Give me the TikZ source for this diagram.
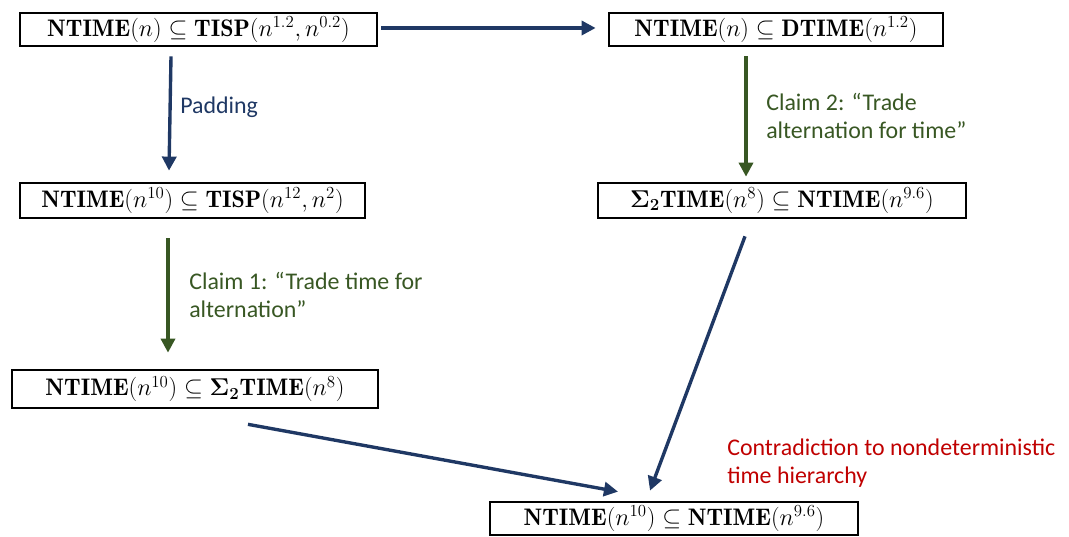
\documentclass[tikz,border=0pt]{standalone}
\usepackage{amsmath,amssymb,bm}
\usepackage{fontspec}
\newfontfamily\labelfont{Carlito}
\usetikzlibrary{positioning, arrows.meta, calc}

\definecolor{navy}{RGB}{31,56,100}
\definecolor{claimgreen}{RGB}{56,87,35}
\definecolor{contrared}{RGB}{192,0,0}

\tikzset{
  claim/.style={draw, rectangle, line width=1.9pt, inner sep=0pt,
    minimum height=0.825cm, font=\fontsize{17}{20}\selectfont},
  navyarrow/.style={navy, line width=2.4pt, -{Triangle[length=10pt,width=10pt]}},
  greenarrow/.style={claimgreen, line width=2.4pt, -{Triangle[length=10pt,width=10pt]}},
  note/.style={anchor=west, align=left, inner sep=0pt,
    font=\labelfont\fontsize{17}{20}\selectfont}
}

\begin{document}
\begin{tikzpicture}[x=0.025cm, y=-0.025cm]

            \useasboundingbox (0,0) rectangle (1069,537);

            \node[claim, minimum width=8.925cm] (tisp) at (198.5,29.5)
                {$\mathbf{NTIME}(n) \subseteq \mathbf{TISP}(n^{1.2}, n^{0.2})$};
            \node[claim, minimum width=8.35cm] (dtime) at (776,29.5)
                {$\mathbf{NTIME}(n) \subseteq \mathbf{DTIME}(n^{1.2})$};
            \node[claim, minimum width=8.625cm, minimum height=0.875cm] (padded) at (192.5,200.5)
                {$\mathbf{NTIME}(n^{10}) \subseteq \mathbf{TISP}(n^{12}, n^{2})$};
            \node[claim, minimum width=9.2cm, minimum height=0.875cm] (sigmatime) at (782,200.5)
                {$\boldsymbol{\Sigma_2}\mathbf{TIME}(n^{8}) \subseteq \mathbf{NTIME}(n^{9.6})$};
            \node[claim, minimum width=9.15cm, minimum height=0.95cm] (ntimesigma) at (195,389)
                {$\mathbf{NTIME}(n^{10}) \subseteq \boldsymbol{\Sigma_2}\mathbf{TIME}(n^{8})$};
            \node[claim, minimum width=9.2cm] (contra) at (674,518.5)
                {$\mathbf{NTIME}(n^{10}) \subseteq \mathbf{NTIME}(n^{9.6})$};

            \draw[navyarrow] ($(tisp.east)+(3,-1.5)$) -- ($(dtime.west)+(-12,-1.5)$);
            \draw[navyarrow] ($(tisp.south)+(-27.5,9)$) -- ($(padded.north)+(-23.5,-11)$);
            \draw[greenarrow] ($(dtime.south)+(-30,9)$) -- ($(sigmatime.north)+(-36,-5)$);
            \draw[greenarrow] ($(padded.south)+(-24.5,19)$) -- ($(ntimesigma.north)+(-27,-16)$);
            \draw[navyarrow] ($(ntimesigma.south)+(53,15)$) -- ($(contra.north)+(-56,-9)$);
            \draw[navyarrow] ($(sigmatime.south)+(-37,17)$) -- ($(contra.north)+(-24,-10)$);

            \node[note, text=navy] (padding) at (180,107) {Padding};
            \node[note, text=claimgreen] (claimtwo) at (766,116)
                {Claim 2: “Trade\\alternation for time”};
            \node[note, text=claimgreen] (claimone) at (189,295)
                {Claim 1: “Trade time for\\alternation”};
            \node[note, text=contrared] (hierarchy) at (727,463)
                {Contradiction to nondeterministic\\time hierarchy};

        \end{tikzpicture}
\end{document}
